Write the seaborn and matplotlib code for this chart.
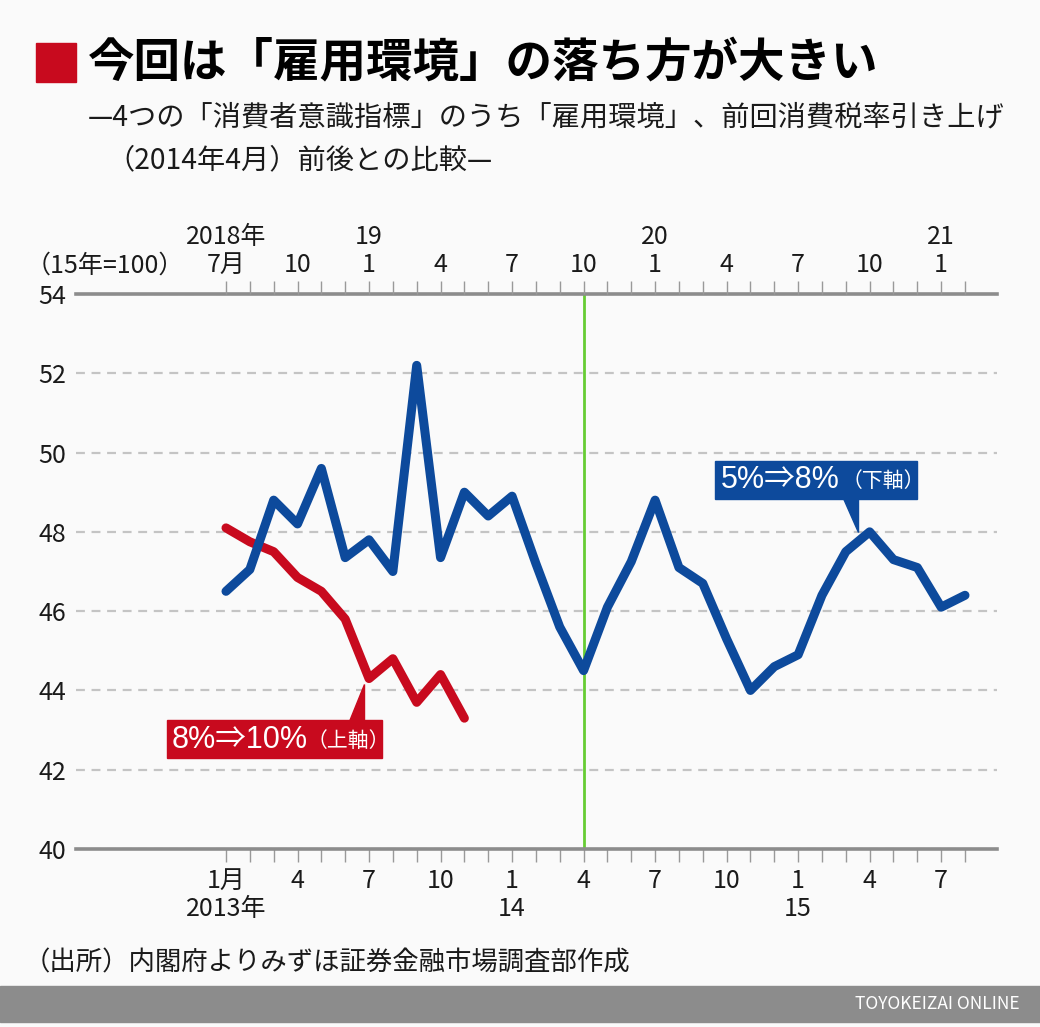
import numpy as np
import pandas as pd
import seaborn as sns
import matplotlib.pyplot as plt
from matplotlib.patches import Rectangle, Polygon

# 雇用環境 (15年=100)
# 5%=>8% : 2013年1月 - 2015年8月 (lower axis)
blue_vals = [46.5, 47.05, 48.8, 48.2, 49.6, 47.35, 47.8, 47.0, 52.2, 47.35, 49.0, 48.4,
             48.9, 47.2, 45.6, 44.5, 46.1, 47.25, 48.8, 47.1, 46.7, 45.3, 44.0, 44.6,
             44.9, 46.4, 47.5, 48.0, 47.3, 47.1, 46.1, 46.4]
# 8%=>10% : 2018年7月 - 2019年5月 (upper axis)
red_vals = [48.1, 47.75, 47.5, 46.85, 46.5, 45.8, 44.3, 44.8, 43.7, 44.4, 43.3]

bottom_labels = ["1月\n2013年", "4", "7", "10", "1\n14", "4", "7", "10", "1\n15", "4", "7"]
top_labels = ["2018年\n7月", "10", "19\n1", "4", "7", "10", "20\n1", "4", "7", "10", "21\n1"]
y_ticks = [40, 42, 44, 46, 48, 50, 52, 54]

n_months = 32
hike_month = 15   # 2014年4月 / 2019年10月
red_label_idx = 6
blue_label_idx = 27

BLUE = "#0d4a9c"
RED = "#c80a1e"
GREEN = "#66cc33"
AXGRAY = "#8c8c8c"

W, H = 1040, 1027

sns.set_style("white")
plt.rcParams["font.family"] = ["Liberation Sans Narrow", "Noto Sans CJK JP", "DejaVu Sans"]
plt.rcParams["axes.unicode_minus"] = False

fig = plt.figure(figsize=(W / 100, H / 100), dpi=100, facecolor="#fafafa")


def fpx(x, y):
    return (x / W, 1 - y / H)


ax = fig.add_axes([76 / W, 1 - 849 / H, 921 / W, 555 / H])
ax.set_facecolor("none")

blue_df = pd.DataFrame({"month": np.arange(len(blue_vals)), "value": blue_vals})
red_df = pd.DataFrame({"month": np.arange(len(red_vals)), "value": red_vals})

ax.axvline(hike_month, color=GREEN, lw=2, zorder=2)
sns.lineplot(data=blue_df, x="month", y="value", ax=ax, color=BLUE, lw=6.5, zorder=4)
sns.lineplot(data=red_df, x="month", y="value", ax=ax, color=RED, lw=6.5, zorder=3)

ax.set_xlim(-150 / 23.84, 31 + 32 / 23.84)
ax.set_ylim(40, 54)
ax.set_yticks(y_ticks)
ax.set_yticklabels([str(v) for v in y_ticks], fontsize=18)
ax.tick_params(axis="y", length=0, pad=7, labelcolor="#1a1a1a")
ax.set_xlabel("")
ax.set_ylabel("")

ax.yaxis.grid(True, color="#c4c4c4", lw=1.6, linestyle=(0, (4, 3)))
ax.xaxis.grid(False)
for s in ["left", "right"]:
    ax.spines[s].set_visible(False)
for s in ["top", "bottom"]:
    ax.spines[s].set_color(AXGRAY)
    ax.spines[s].set_linewidth(2.6)
    ax.spines[s].set_zorder(5)

months = np.arange(n_months)
bl = [""] * n_months
tl = [""] * n_months
for i, lab in enumerate(bottom_labels):
    bl[i * 3] = lab
for i, lab in enumerate(top_labels):
    tl[i * 3] = lab

ax.set_xticks(months)
ax.set_xticklabels(bl, fontsize=18, linespacing=1.1)
ax.tick_params(axis="x", direction="out", length=9.5, width=1, color="#999999",
               pad=4, labelcolor="#1a1a1a")

ax_top = ax.twiny()
ax_top.set_xlim(ax.get_xlim())
ax_top.set_xticks(months)
ax_top.set_xticklabels(tl, fontsize=18, linespacing=1.1)
ax_top.tick_params(axis="x", direction="out", length=9.5, width=1, color="#999999",
                   pad=2, labelcolor="#1a1a1a")
for s in ax_top.spines.values():
    s.set_visible(False)


def data_px(x, y):
    dx, dy = ax.transData.transform((x, y))
    return dx, H - dy


# red label
rx, ry = data_px(red_label_idx, red_vals[red_label_idx])
fig.patches.append(Rectangle(fpx(167, 758), 215 / W, 38 / H, color=RED,
                             transform=fig.transFigure, zorder=6))
fig.patches.append(Polygon([fpx(rx - 20, 721), fpx(rx - 5, 721), fpx(rx - 5, ry + 5)],
                           closed=True, color=RED, transform=fig.transFigure, zorder=6))
fig.text(*fpx(172, 740), "8%⇒10%", color="white", fontsize=22, va="center",
         family=["Liberation Sans", "Noto Sans CJK JP", "DejaVu Sans"], zorder=7)
fig.text(*fpx(307, 741), "（上軸）", color="white", fontsize=15, va="center",
         family=["Noto Sans CJK JP"], zorder=7)

# blue label
bx, by = data_px(blue_label_idx, blue_vals[blue_label_idx])
fig.patches.append(Rectangle(fpx(715, 499), 202 / W, 38 / H, color=BLUE,
                             transform=fig.transFigure, zorder=6))
fig.patches.append(Polygon([fpx(bx - 27, 498), fpx(bx - 12, 498), fpx(bx - 12, by)],
                           closed=True, color=BLUE, transform=fig.transFigure, zorder=6))
fig.text(*fpx(721, 480), "5%⇒8%", color="white", fontsize=22, va="center",
         family=["Liberation Sans", "Noto Sans CJK JP", "DejaVu Sans"], zorder=7)
fig.text(*fpx(842, 481), "（下軸）", color="white", fontsize=15, va="center",
         family=["Noto Sans CJK JP"], zorder=7)

# unit
fig.text(*fpx(26, 266), "（15年=100）", fontsize=18, va="center", color="#1a1a1a")

# title
fig.patches.append(Rectangle(fpx(36, 82), 40 / W, 39 / H, color=RED, transform=fig.transFigure))
fig.text(*fpx(88, 62), "今回は「雇用環境」の落ち方が大きい", fontsize=33.5, fontweight="bold",
         va="center", family=["Noto Sans CJK JP"], color="black")
fig.text(*fpx(88, 118), "—4つの「消費者意識指標」のうち「雇用環境」、前回消費税率引き上げ",
         fontsize=20.3, va="center", family=["Noto Sans CJK JP"], color="#1a1a1a")
fig.text(*fpx(106, 160), "（2014年4月）前後との比較—",
         fontsize=20.3, va="center", family=["Noto Sans CJK JP"], color="#1a1a1a")

# source and footer
fig.text(*fpx(24, 963), "（出所）内閣府よりみずほ証券金融市場調査部作成", fontsize=19,
         va="center", family=["Noto Sans CJK JP"], color="#1a1a1a")
fig.patches.append(Rectangle(fpx(0, 1022), 1, 36 / H, color=AXGRAY, transform=fig.transFigure))
fig.text(*fpx(1020, 1004), "TOYOKEIZAI ONLINE", fontsize=12.5, color="white",
         ha="right", va="center")

fig.savefig("out.png", dpi=100, facecolor=fig.get_facecolor())
